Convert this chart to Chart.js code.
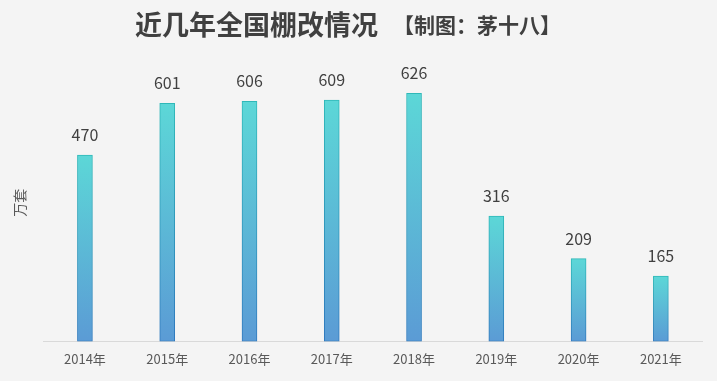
<!DOCTYPE html>
<html>
<head>
<meta charset="utf-8">
<script src="https://cdn.jsdelivr.net/npm/chart.js@4.4.1/dist/chart.umd.min.js"></script>
<style>
html,body{margin:0;padding:0;background:#f4f4f4;}
#wrap{width:717px;height:381px;position:relative;}
</style>
</head>
<body>
<div id="wrap"><canvas id="c" width="717" height="381"></canvas></div>
<script>
const categories = ['2014年','2015年','2016年','2017年','2018年','2019年','2020年','2021年'];
const values = [470, 601, 606, 609, 626, 316, 209, 165];
const titleMain = '近几年全国棚改情况';
const titleNote = '【制图：茅十八】';
const yTitle = '万套';
const yMin = 0, yMax = 700;

const FONT = '"Noto Sans CJK SC", "Noto Sans", sans-serif';

function vGrad(ctx, topColor, bottomColor) {
  const chart = ctx.chart;
  const ca = chart.chartArea;
  if (!ca || ctx.dataIndex === undefined) return topColor;
  const v = ctx.dataset.data[ctx.dataIndex];
  const y = chart.scales.y.getPixelForValue(v);
  const g = chart.ctx.createLinearGradient(0, y, 0, ca.bottom);
  g.addColorStop(0, topColor);
  g.addColorStop(1, bottomColor);
  return g;
}

const bgPlugin = {
  id: 'bg',
  beforeDraw(chart) {
    const c = chart.ctx;
    c.save();
    c.fillStyle = '#f4f4f4';
    c.fillRect(0, 0, chart.width, chart.height);
    c.restore();
  }
};

const titlePlugin = {
  id: 'twoPartTitle',
  afterDraw(chart) {
    const c = chart.ctx;
    c.save();
    c.fillStyle = '#404040';
    c.textBaseline = 'middle';
    c.textAlign = 'left';
    const f1 = 'bold 27px ' + FONT;
    const f2 = 'bold 21px ' + FONT;
    c.font = f1;
    const w1 = c.measureText(titleMain).width;
    const gap = 15;
    const x0 = 135;
    c.fillText(titleMain, x0, 25);
    c.font = f2;
    c.fillText(titleNote, x0 + w1 + gap, 25);
    c.restore();
  }
};

const labelPlugin = {
  id: 'valueLabels',
  afterDatasetsDraw(chart) {
    const c = chart.ctx;
    const meta = chart.getDatasetMeta(0);
    c.save();
    c.fillStyle = '#404040';
    c.font = '16px ' + FONT;
    c.textAlign = 'center';
    c.textBaseline = 'middle';
    meta.data.forEach((bar, i) => {
      c.fillText(String(values[i]), bar.x, bar.y - 20);
    });
    c.restore();
  }
};

new Chart(document.getElementById('c'), {
  type: 'bar',
  data: {
    labels: categories,
    datasets: [{
      data: values,
      barThickness: 15,
      borderWidth: 1,
      borderSkipped: false,
      backgroundColor: (ctx) => vGrad(ctx, '#5cd7d7', '#5b9bd5'),
      borderColor: (ctx) => vGrad(ctx, '#2fb8b8', '#2e78bd')
    }]
  },
  options: {
    responsive: false,
    animation: false,
    events: [],
    layout: { padding: { left: 7, right: 15, top: 64, bottom: 4 } },
    plugins: {
      legend: { display: false },
      title: { display: false },
      tooltip: { enabled: false }
    },
    scales: {
      x: {
        grid: { display: false, drawTicks: false },
        border: { display: true, color: '#d9d9d9', width: 1 },
        ticks: { color: '#595959', font: { size: 13, family: FONT }, padding: 10, maxRotation: 0 }
      },
      y: {
        min: yMin,
        max: yMax,
        grid: { display: false, drawTicks: false },
        border: { display: false },
        ticks: { display: false },
        title: {
          display: true,
          text: yTitle,
          color: '#595959',
          font: { size: 14, family: FONT },
          padding: { top: 4, bottom: 16 }
        }
      }
    }
  },
  plugins: [bgPlugin, titlePlugin, labelPlugin]
});
</script>
</body>
</html>
